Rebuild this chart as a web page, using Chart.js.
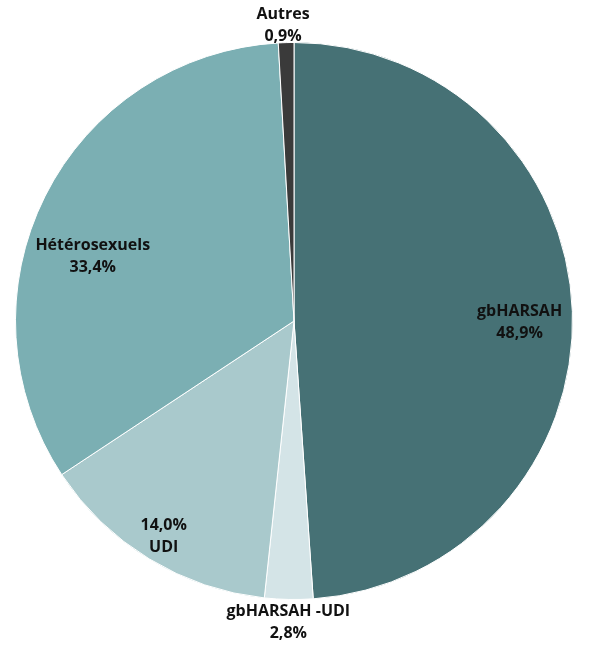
<!DOCTYPE html>
<html>
<head>
<meta charset="utf-8">
<script src="https://cdn.jsdelivr.net/npm/chart.js@4"></script>
<style>
  html, body { margin: 0; padding: 0; background: #ffffff; }
  #wrap { width: 589px; height: 650px; }
</style>
</head>
<body>
<div id="wrap"><canvas id="chart"></canvas></div>
<script>
// categories, clockwise from 12 o'clock
var labels = ["gbHARSAH", "gbHARSAH -UDI", "UDI", "Hétérosexuels", "Autres"];
var values = [48.9, 2.8, 14.0, 33.4, 0.9];
var colors = ["#467175", "#d4e4e7", "#a9c9cc", "#7bafb3", "#3a3a3a"];

// label placement: distance from centre (fraction of radius), angle nudge in degrees, % first?
var labelDist  = [0.81, 1.08, 0.90, 0.76, 1.065];
var labelTurn  = [2, 0, 0, -8.6, -0.5];
var pctFirst   = [false, false, true, false, false];

function fmt(v) {
    return v.toFixed(1).replace(".", ",") + "%";
}

var sliceLabels = {
    id: "sliceLabels",
    afterDatasetsDraw(chart) {
        let ctx = chart.ctx;
        let meta = chart.getDatasetMeta(0);
        ctx.save();
        ctx.font = "bold 16px 'Open Sans'";
        ctx.fillStyle = "#111111";
        ctx.textAlign = "center";
        ctx.textBaseline = "middle";
        meta.data.forEach((arc, i) => {
            let p = arc.getProps(["x", "y", "startAngle", "endAngle", "outerRadius"], true);
            let mid = (p.startAngle + p.endAngle) / 2 + labelTurn[i] * Math.PI / 180;
            let r = p.outerRadius * labelDist[i];
            let x = p.x + Math.cos(mid) * r;
            let y = p.y + Math.sin(mid) * r;
            let lines = pctFirst[i] ? [fmt(values[i]), labels[i]] : [labels[i], fmt(values[i])];
            ctx.fillText(lines[0], x, y - 10);
            ctx.fillText(lines[1], x, y + 12);
        });
        ctx.restore();
    }
};

new Chart(document.getElementById("chart"), {
    type: "pie",
    data: {
        labels: labels,
        datasets: [{
            data: values,
            backgroundColor: colors,
            borderColor: "#ffffff",
            borderWidth: 1
        }]
    },
    options: {
        responsive: true,
        maintainAspectRatio: false,
        animation: false,
        layout: { padding: { top: 42, bottom: 50, left: 13, right: 14 } },
        plugins: {
            legend: { display: false },
            tooltip: { enabled: false }
        }
    },
    plugins: [sliceLabels]
});
</script>
</body>
</html>
